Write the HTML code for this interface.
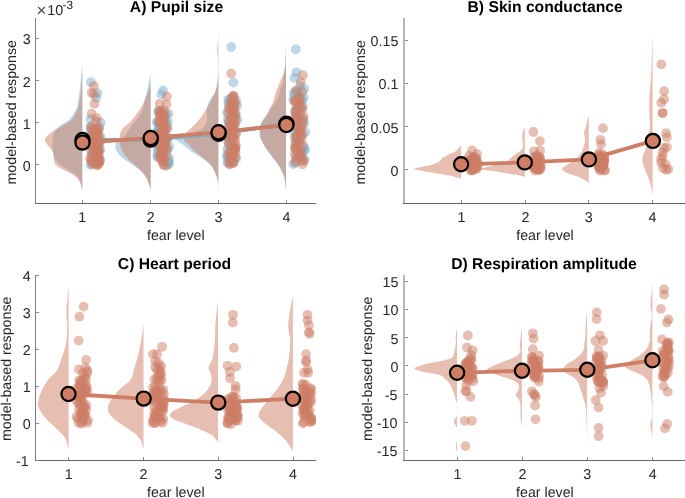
<!DOCTYPE html>
<html><head><meta charset="utf-8"><style>
html,body{margin:0;padding:0;background:#fff;width:685px;height:498px;overflow:hidden}
svg{display:block;will-change:transform}
text{font-family:"Liberation Sans",sans-serif;fill:#262626;text-rendering:geometricPrecision}
.t{font-size:14.3px}
.l{font-size:14.2px}
.ti{font-size:15.7px;font-weight:bold;fill:#000}
</style></head><body>
<svg width="685" height="498" viewBox="0 0 685 498">

<clipPath id="cA"><rect x="35.5" y="-2.0" width="280.5" height="205.5"/></clipPath>
<g clip-path="url(#cA)">
<path d="M82.3 64.5 L82.3 64.5 C82.1 66.3 81.6 70.8 81.2 75.1 C80.8 79.4 80.3 85.1 79.7 90.1 C79.1 95.1 78.3 101.4 77.4 105.2 C76.5 109.0 75.9 110.2 74.4 112.7 C72.9 115.2 70.6 118.2 68.4 120.2 C66.2 122.2 63.2 123.3 61.1 125.0 C59.0 126.7 56.9 128.2 55.5 130.6 C54.1 132.9 53.2 136.5 52.7 139.1 C52.2 141.7 52.4 143.8 52.4 146.1 C52.4 148.4 52.6 151.2 52.9 153.1 C53.2 155.0 53.2 155.7 54.1 157.3 C55.0 159.0 56.7 161.3 58.3 163.0 C59.9 164.7 61.8 165.8 63.9 167.2 C66.0 168.6 68.8 170.0 70.9 171.4 C73.0 172.8 75.2 174.2 76.6 175.6 C78.0 177.0 78.7 178.5 79.4 179.9 C80.1 181.3 80.3 182.2 80.8 184.1 C81.3 186.0 82.0 189.9 82.3 191.1 L82.3 191.1 Z" fill="rgb(123,176,201)" fill-opacity="0.5"/>
<path d="M150.7 72.8 L150.7 72.8 C150.6 73.5 150.5 74.7 150.0 77.0 C149.5 79.3 148.6 83.9 147.9 86.9 C147.2 90.0 146.4 93.0 145.8 95.3 C145.2 97.6 145.1 98.1 144.4 100.9 C143.7 103.7 143.8 108.0 141.6 112.2 C139.4 116.4 133.8 122.3 131.0 126.3 C128.2 130.3 126.9 133.8 124.7 136.1 C122.5 138.4 119.5 138.6 118.0 140.0 C116.5 141.4 115.8 143.0 115.5 144.7 C115.2 146.4 115.5 148.4 116.3 150.3 C117.1 152.2 118.6 154.0 120.5 155.9 C122.4 157.8 124.9 159.7 127.5 161.6 C130.1 163.5 133.3 165.3 135.9 167.2 C138.5 169.1 141.1 170.9 143.0 172.8 C144.9 174.7 146.0 176.1 147.2 178.4 C148.4 180.8 149.4 185.0 150.0 186.9 C150.6 188.8 150.6 189.5 150.7 190.0 L150.7 190.0 Z" fill="rgb(123,176,201)" fill-opacity="0.5"/>
<path d="M218.4 31.3 L218.4 31.3 C218.3 33.3 218.0 39.9 217.8 43.1 C217.6 46.3 216.9 47.3 217.0 50.3 C217.1 53.3 217.9 56.9 218.1 61.1 C218.3 65.3 218.2 71.1 218.0 75.6 C217.8 80.0 217.3 84.9 216.8 87.8 C216.3 90.7 215.7 91.6 214.8 93.1 C213.9 94.6 212.7 95.3 211.6 97.0 C210.5 98.7 209.1 101.3 208.3 103.5 C207.5 105.7 206.9 107.8 206.7 110.0 C206.5 112.2 207.1 114.4 207.0 116.6 C206.9 118.8 207.0 121.1 206.3 123.1 C205.7 125.0 204.6 127.0 203.1 128.3 C201.6 129.6 199.3 130.0 197.2 130.9 C195.1 131.8 193.1 132.7 190.7 133.5 C188.3 134.3 185.3 134.5 182.8 135.5 C180.3 136.5 175.8 137.8 175.8 139.3 C175.9 140.9 180.4 142.7 183.1 144.8 C185.8 146.9 189.1 149.9 192.1 152.0 C195.1 154.1 198.1 155.3 201.1 157.4 C204.1 159.5 207.8 161.9 210.2 164.6 C212.6 167.3 214.3 171.0 215.6 173.7 C216.9 176.4 217.3 178.2 217.8 180.9 C218.3 183.6 218.3 188.4 218.4 189.9 L218.4 189.9 Z" fill="rgb(123,176,201)" fill-opacity="0.5"/>
<path d="M286.0 28.6 L286.0 28.6 C286.0 31.0 286.0 37.2 285.9 43.1 C285.8 49.0 285.5 59.3 285.2 64.2 C284.9 69.1 284.1 69.9 283.8 72.7 C283.5 75.5 283.6 78.5 283.1 81.1 C282.6 83.7 281.8 85.5 281.0 88.1 C280.2 90.7 279.2 94.0 278.2 96.6 C277.1 99.2 275.8 102.0 274.7 103.6 C273.6 105.2 273.1 104.8 271.9 106.4 C270.7 108.0 269.2 111.1 267.7 113.4 C266.2 115.8 264.0 118.4 262.7 120.5 C261.4 122.6 260.4 124.4 259.9 126.1 C259.3 127.8 259.4 128.9 259.4 130.5 C259.4 132.1 259.3 133.6 259.8 135.7 C260.3 137.8 261.3 140.6 262.5 143.0 C263.7 145.4 265.3 147.8 267.0 150.2 C268.7 152.6 270.7 155.0 272.5 157.4 C274.3 159.8 276.4 162.2 278.0 164.6 C279.6 167.0 280.9 169.5 282.0 171.9 C283.1 174.3 283.8 176.1 284.5 179.1 C285.2 182.1 285.8 188.1 286.0 189.9 L286.0 189.9 Z" fill="rgb(123,176,201)" fill-opacity="0.5"/>
<path d="M82.3 70.0 L82.3 70.0 C82.1 73.3 81.6 84.1 81.0 90.0 C80.4 95.9 79.8 101.4 78.9 105.2 C78.1 109.0 77.2 110.2 75.9 112.7 C74.7 115.2 73.9 117.9 71.4 120.2 C68.9 122.5 64.0 124.7 61.1 126.4 C58.2 128.1 56.5 128.9 54.1 130.6 C51.8 132.2 48.5 134.9 47.0 136.3 C45.5 137.7 45.0 137.9 44.9 139.1 C44.8 140.3 45.4 141.8 46.3 143.3 C47.2 144.8 49.3 146.6 50.5 148.2 C51.7 149.8 52.8 151.1 53.4 153.1 C54.0 155.1 53.8 158.3 54.1 160.2 C54.5 162.1 54.3 163.0 55.5 164.4 C56.7 165.8 59.0 167.3 61.1 168.6 C63.2 169.9 65.8 170.8 68.1 172.1 C70.4 173.4 73.4 175.0 75.2 176.3 C77.0 177.6 77.8 178.6 78.7 179.9 C79.6 181.2 80.3 182.7 80.8 184.1 C81.3 185.5 81.7 187.3 81.9 188.3 C82.2 189.3 82.2 189.7 82.3 190.0 L82.3 190.0 Z" fill="rgb(206,126,101)" fill-opacity="0.5"/>
<path d="M150.7 84.0 L150.7 84.0 C150.1 85.9 148.2 92.5 147.2 95.3 C146.1 98.1 145.4 98.8 144.4 100.9 C143.4 103.0 142.3 105.7 140.9 108.0 C139.5 110.3 137.7 112.7 135.9 115.0 C134.1 117.3 132.4 119.9 130.3 122.0 C128.2 124.1 125.0 125.9 123.3 127.8 C121.6 129.7 120.8 131.8 120.2 133.4 C119.6 135.1 119.8 135.6 119.8 137.7 C119.8 139.8 119.9 143.5 120.5 146.1 C121.1 148.7 121.8 150.8 123.3 153.1 C124.8 155.4 127.3 157.8 129.6 160.2 C131.9 162.5 135.0 164.9 137.3 167.2 C139.7 169.5 142.0 172.1 143.7 174.2 C145.3 176.3 146.3 178.0 147.2 179.9 C148.1 181.8 148.7 183.9 149.3 185.5 C149.9 187.1 150.5 189.0 150.7 189.7 L150.7 189.7 Z" fill="rgb(206,126,101)" fill-opacity="0.5"/>
<path d="M218.4 57.5 L218.4 57.5 C218.3 60.5 218.3 70.8 218.0 75.6 C217.7 80.4 217.1 83.4 216.5 86.5 C215.9 89.6 215.2 91.8 214.2 94.4 C213.1 97.0 211.6 99.6 210.2 102.2 C208.8 104.8 207.3 107.4 205.7 110.0 C204.1 112.6 202.3 115.5 200.5 117.9 C198.7 120.3 196.4 122.5 194.6 124.4 C192.8 126.4 190.9 128.1 189.4 129.6 C187.9 131.1 186.4 132.3 185.4 133.5 C184.4 134.7 183.8 135.8 183.6 137.0 C183.4 138.2 183.7 139.7 184.5 141.0 C185.3 142.3 186.6 143.0 188.5 144.8 C190.4 146.6 193.0 149.6 195.7 152.0 C198.4 154.4 202.1 156.8 204.8 159.2 C207.5 161.6 210.2 164.0 212.0 166.4 C213.8 168.8 214.6 171.3 215.6 173.7 C216.6 176.1 217.3 178.2 217.8 180.9 C218.3 183.6 218.3 188.4 218.4 189.9 L218.4 189.9 Z" fill="rgb(206,126,101)" fill-opacity="0.5"/>
<path d="M286.0 52.1 L286.0 52.1 C285.8 55.1 285.6 65.4 284.7 70.2 C283.8 75.0 281.5 78.1 280.3 81.1 C279.1 84.1 278.4 85.5 277.5 88.1 C276.6 90.7 275.5 94.0 274.7 96.6 C273.9 99.2 273.3 101.7 272.6 103.6 C271.9 105.5 271.6 105.8 270.5 107.8 C269.4 109.8 267.5 113.5 266.2 115.8 C264.9 118.0 263.4 119.2 262.5 121.3 C261.6 123.4 260.9 126.1 260.5 128.5 C260.1 130.9 259.9 133.3 260.3 135.7 C260.7 138.1 261.8 140.6 263.0 143.0 C264.2 145.4 265.8 147.8 267.5 150.2 C269.2 152.6 271.2 155.0 273.0 157.4 C274.8 159.8 276.8 162.2 278.4 164.6 C280.0 167.0 281.3 169.5 282.4 171.9 C283.4 174.3 284.1 176.1 284.7 179.1 C285.3 182.1 285.8 188.1 286.0 189.9 L286.0 189.9 Z" fill="rgb(206,126,101)" fill-opacity="0.5"/>
<g fill="rgb(123,176,201)" fill-opacity="0.5">
<circle cx="90.9" cy="82.2" r="4.9"/>
<circle cx="97.3" cy="93.2" r="4.9"/>
<circle cx="96.2" cy="97.7" r="4.9"/>
<circle cx="100.6" cy="122.5" r="4.9"/>
<circle cx="90.6" cy="119.2" r="4.9"/>
<circle cx="99.0" cy="127.4" r="4.9"/>
<circle cx="90.7" cy="127.2" r="4.9"/>
<circle cx="97.0" cy="129.5" r="4.9"/>
<circle cx="90.7" cy="130.0" r="4.9"/>
<circle cx="97.8" cy="131.5" r="4.9"/>
<circle cx="97.6" cy="132.5" r="4.9"/>
<circle cx="91.0" cy="135.3" r="4.9"/>
<circle cx="94.4" cy="136.1" r="4.9"/>
<circle cx="100.5" cy="137.0" r="4.9"/>
<circle cx="89.7" cy="137.3" r="4.9"/>
<circle cx="93.9" cy="141.0" r="4.9"/>
<circle cx="93.1" cy="140.0" r="4.9"/>
<circle cx="100.0" cy="141.8" r="4.9"/>
<circle cx="91.9" cy="142.5" r="4.9"/>
<circle cx="95.5" cy="144.9" r="4.9"/>
<circle cx="98.7" cy="147.2" r="4.9"/>
<circle cx="91.7" cy="146.7" r="4.9"/>
<circle cx="100.4" cy="149.4" r="4.9"/>
<circle cx="97.6" cy="148.2" r="4.9"/>
<circle cx="96.7" cy="151.9" r="4.9"/>
<circle cx="98.3" cy="151.2" r="4.9"/>
<circle cx="91.6" cy="154.0" r="4.9"/>
<circle cx="91.9" cy="154.9" r="4.9"/>
<circle cx="93.2" cy="154.4" r="4.9"/>
<circle cx="93.9" cy="156.5" r="4.9"/>
<circle cx="98.7" cy="158.7" r="4.9"/>
<circle cx="100.2" cy="160.8" r="4.9"/>
<circle cx="98.2" cy="162.2" r="4.9"/>
<circle cx="91.4" cy="161.3" r="4.9"/>
<circle cx="95.5" cy="163.5" r="4.9"/>
<circle cx="90.5" cy="164.9" r="4.9"/>
<circle cx="163.0" cy="90.5" r="4.9"/>
<circle cx="161.4" cy="94.4" r="4.9"/>
<circle cx="158.1" cy="110.9" r="4.9"/>
<circle cx="157.5" cy="122.0" r="4.9"/>
<circle cx="168.6" cy="164.2" r="4.9"/>
<circle cx="159.7" cy="111.5" r="4.9"/>
<circle cx="168.3" cy="113.7" r="4.9"/>
<circle cx="166.0" cy="115.9" r="4.9"/>
<circle cx="163.4" cy="116.3" r="4.9"/>
<circle cx="163.5" cy="120.0" r="4.9"/>
<circle cx="168.0" cy="121.9" r="4.9"/>
<circle cx="157.0" cy="121.7" r="4.9"/>
<circle cx="158.6" cy="124.5" r="4.9"/>
<circle cx="166.1" cy="123.8" r="4.9"/>
<circle cx="167.5" cy="127.8" r="4.9"/>
<circle cx="159.5" cy="129.7" r="4.9"/>
<circle cx="158.5" cy="128.7" r="4.9"/>
<circle cx="158.4" cy="132.9" r="4.9"/>
<circle cx="157.3" cy="132.0" r="4.9"/>
<circle cx="157.5" cy="133.3" r="4.9"/>
<circle cx="159.0" cy="135.7" r="4.9"/>
<circle cx="168.6" cy="137.1" r="4.9"/>
<circle cx="167.2" cy="138.3" r="4.9"/>
<circle cx="164.1" cy="141.6" r="4.9"/>
<circle cx="166.6" cy="142.6" r="4.9"/>
<circle cx="159.9" cy="144.2" r="4.9"/>
<circle cx="160.1" cy="145.0" r="4.9"/>
<circle cx="169.3" cy="146.8" r="4.9"/>
<circle cx="157.9" cy="148.4" r="4.9"/>
<circle cx="167.2" cy="150.1" r="4.9"/>
<circle cx="165.8" cy="151.6" r="4.9"/>
<circle cx="157.8" cy="152.1" r="4.9"/>
<circle cx="157.6" cy="155.4" r="4.9"/>
<circle cx="161.8" cy="155.8" r="4.9"/>
<circle cx="157.5" cy="157.1" r="4.9"/>
<circle cx="168.9" cy="158.1" r="4.9"/>
<circle cx="168.9" cy="161.7" r="4.9"/>
<circle cx="168.9" cy="162.6" r="4.9"/>
<circle cx="164.7" cy="165.3" r="4.9"/>
<circle cx="231.3" cy="47.0" r="4.9"/>
<circle cx="233.4" cy="82.6" r="4.9"/>
<circle cx="228.4" cy="100.0" r="4.9"/>
<circle cx="233.5" cy="97.1" r="4.9"/>
<circle cx="229.6" cy="99.5" r="4.9"/>
<circle cx="236.3" cy="100.8" r="4.9"/>
<circle cx="228.6" cy="103.3" r="4.9"/>
<circle cx="233.3" cy="104.2" r="4.9"/>
<circle cx="237.1" cy="105.5" r="4.9"/>
<circle cx="231.4" cy="107.3" r="4.9"/>
<circle cx="233.5" cy="110.3" r="4.9"/>
<circle cx="229.9" cy="110.1" r="4.9"/>
<circle cx="227.1" cy="112.4" r="4.9"/>
<circle cx="234.6" cy="114.4" r="4.9"/>
<circle cx="235.8" cy="115.6" r="4.9"/>
<circle cx="232.6" cy="118.8" r="4.9"/>
<circle cx="227.8" cy="119.8" r="4.9"/>
<circle cx="237.3" cy="119.7" r="4.9"/>
<circle cx="228.8" cy="122.1" r="4.9"/>
<circle cx="234.7" cy="125.7" r="4.9"/>
<circle cx="230.0" cy="125.1" r="4.9"/>
<circle cx="229.5" cy="127.1" r="4.9"/>
<circle cx="232.3" cy="128.2" r="4.9"/>
<circle cx="230.8" cy="130.8" r="4.9"/>
<circle cx="227.7" cy="132.1" r="4.9"/>
<circle cx="236.1" cy="133.4" r="4.9"/>
<circle cx="232.7" cy="137.3" r="4.9"/>
<circle cx="228.1" cy="137.1" r="4.9"/>
<circle cx="230.0" cy="138.8" r="4.9"/>
<circle cx="229.5" cy="140.4" r="4.9"/>
<circle cx="228.6" cy="142.5" r="4.9"/>
<circle cx="231.5" cy="145.6" r="4.9"/>
<circle cx="230.4" cy="146.8" r="4.9"/>
<circle cx="235.1" cy="148.7" r="4.9"/>
<circle cx="227.3" cy="149.8" r="4.9"/>
<circle cx="230.7" cy="152.0" r="4.9"/>
<circle cx="227.7" cy="154.6" r="4.9"/>
<circle cx="226.7" cy="156.6" r="4.9"/>
<circle cx="231.4" cy="157.4" r="4.9"/>
<circle cx="236.3" cy="158.4" r="4.9"/>
<circle cx="228.3" cy="161.3" r="4.9"/>
<circle cx="233.2" cy="162.4" r="4.9"/>
<circle cx="227.5" cy="162.7" r="4.9"/>
<circle cx="295.8" cy="49.3" r="4.9"/>
<circle cx="296.5" cy="72.3" r="4.9"/>
<circle cx="294.4" cy="77.9" r="4.9"/>
<circle cx="303.6" cy="97.6" r="4.9"/>
<circle cx="300.1" cy="86.0" r="4.9"/>
<circle cx="304.2" cy="88.9" r="4.9"/>
<circle cx="297.2" cy="90.9" r="4.9"/>
<circle cx="298.0" cy="93.0" r="4.9"/>
<circle cx="293.7" cy="93.0" r="4.9"/>
<circle cx="294.5" cy="95.5" r="4.9"/>
<circle cx="300.4" cy="96.7" r="4.9"/>
<circle cx="302.3" cy="100.1" r="4.9"/>
<circle cx="293.3" cy="99.9" r="4.9"/>
<circle cx="299.7" cy="102.4" r="4.9"/>
<circle cx="302.9" cy="106.0" r="4.9"/>
<circle cx="300.2" cy="108.2" r="4.9"/>
<circle cx="296.3" cy="109.2" r="4.9"/>
<circle cx="295.2" cy="110.2" r="4.9"/>
<circle cx="300.4" cy="112.7" r="4.9"/>
<circle cx="297.6" cy="114.7" r="4.9"/>
<circle cx="295.7" cy="116.2" r="4.9"/>
<circle cx="300.1" cy="119.3" r="4.9"/>
<circle cx="303.1" cy="121.0" r="4.9"/>
<circle cx="294.0" cy="121.5" r="4.9"/>
<circle cx="304.3" cy="123.4" r="4.9"/>
<circle cx="297.8" cy="126.8" r="4.9"/>
<circle cx="296.9" cy="128.7" r="4.9"/>
<circle cx="293.7" cy="130.9" r="4.9"/>
<circle cx="305.2" cy="132.4" r="4.9"/>
<circle cx="298.5" cy="133.3" r="4.9"/>
<circle cx="296.1" cy="134.4" r="4.9"/>
<circle cx="296.4" cy="136.6" r="4.9"/>
<circle cx="296.4" cy="138.0" r="4.9"/>
<circle cx="299.3" cy="140.0" r="4.9"/>
<circle cx="295.5" cy="142.8" r="4.9"/>
<circle cx="296.5" cy="146.3" r="4.9"/>
<circle cx="304.1" cy="147.0" r="4.9"/>
<circle cx="305.1" cy="149.6" r="4.9"/>
<circle cx="303.8" cy="151.0" r="4.9"/>
<circle cx="302.0" cy="151.3" r="4.9"/>
<circle cx="296.7" cy="154.0" r="4.9"/>
<circle cx="302.1" cy="157.2" r="4.9"/>
<circle cx="297.2" cy="157.9" r="4.9"/>
<circle cx="304.6" cy="159.6" r="4.9"/>
<circle cx="295.9" cy="162.5" r="4.9"/>
<circle cx="293.3" cy="164.1" r="4.9"/>
</g>
<polyline points="82.5,140.0 150.7,139.6 218.6,133.8 286.4,123.8" fill="none" stroke="rgb(123,176,201)" stroke-width="3.8" stroke-linejoin="round"/>
<g fill="rgb(206,126,101)" fill-opacity="0.5">
<circle cx="93.9" cy="86.0" r="4.9"/>
<circle cx="91.7" cy="92.7" r="4.9"/>
<circle cx="93.9" cy="94.3" r="4.9"/>
<circle cx="94.5" cy="103.7" r="4.9"/>
<circle cx="91.7" cy="113.7" r="4.9"/>
<circle cx="96.7" cy="118.1" r="4.9"/>
<circle cx="96.2" cy="121.4" r="4.9"/>
<circle cx="90.6" cy="126.9" r="4.9"/>
<circle cx="96.2" cy="128.0" r="4.9"/>
<circle cx="92.7" cy="128.0" r="4.9"/>
<circle cx="99.2" cy="128.2" r="4.9"/>
<circle cx="97.1" cy="130.2" r="4.9"/>
<circle cx="94.1" cy="131.0" r="4.9"/>
<circle cx="96.0" cy="132.3" r="4.9"/>
<circle cx="96.8" cy="133.3" r="4.9"/>
<circle cx="94.7" cy="134.2" r="4.9"/>
<circle cx="91.9" cy="133.0" r="4.9"/>
<circle cx="92.1" cy="135.5" r="4.9"/>
<circle cx="96.4" cy="136.1" r="4.9"/>
<circle cx="98.0" cy="135.1" r="4.9"/>
<circle cx="98.7" cy="135.8" r="4.9"/>
<circle cx="92.6" cy="139.1" r="4.9"/>
<circle cx="97.5" cy="139.5" r="4.9"/>
<circle cx="96.9" cy="138.5" r="4.9"/>
<circle cx="99.2" cy="139.3" r="4.9"/>
<circle cx="99.8" cy="141.8" r="4.9"/>
<circle cx="93.5" cy="140.7" r="4.9"/>
<circle cx="96.3" cy="143.2" r="4.9"/>
<circle cx="98.9" cy="142.7" r="4.9"/>
<circle cx="93.4" cy="145.5" r="4.9"/>
<circle cx="96.8" cy="144.2" r="4.9"/>
<circle cx="96.8" cy="145.8" r="4.9"/>
<circle cx="94.3" cy="146.9" r="4.9"/>
<circle cx="91.8" cy="146.3" r="4.9"/>
<circle cx="97.4" cy="148.4" r="4.9"/>
<circle cx="97.6" cy="149.1" r="4.9"/>
<circle cx="98.9" cy="150.2" r="4.9"/>
<circle cx="93.6" cy="151.4" r="4.9"/>
<circle cx="91.1" cy="150.6" r="4.9"/>
<circle cx="98.7" cy="151.2" r="4.9"/>
<circle cx="97.6" cy="154.5" r="4.9"/>
<circle cx="96.8" cy="153.0" r="4.9"/>
<circle cx="98.9" cy="153.8" r="4.9"/>
<circle cx="97.6" cy="156.2" r="4.9"/>
<circle cx="94.5" cy="156.9" r="4.9"/>
<circle cx="99.6" cy="158.4" r="4.9"/>
<circle cx="94.7" cy="157.4" r="4.9"/>
<circle cx="97.0" cy="159.7" r="4.9"/>
<circle cx="94.8" cy="159.5" r="4.9"/>
<circle cx="93.1" cy="162.0" r="4.9"/>
<circle cx="97.0" cy="160.5" r="4.9"/>
<circle cx="99.0" cy="161.5" r="4.9"/>
<circle cx="99.3" cy="162.5" r="4.9"/>
<circle cx="98.9" cy="163.4" r="4.9"/>
<circle cx="97.5" cy="165.4" r="4.9"/>
<circle cx="94.9" cy="157.7" r="4.9"/>
<circle cx="93.4" cy="157.8" r="4.9"/>
<circle cx="90.1" cy="158.5" r="4.9"/>
<circle cx="91.2" cy="159.8" r="4.9"/>
<circle cx="97.4" cy="160.6" r="4.9"/>
<circle cx="96.2" cy="160.5" r="4.9"/>
<circle cx="98.0" cy="161.5" r="4.9"/>
<circle cx="92.1" cy="164.0" r="4.9"/>
<circle cx="97.2" cy="165.0" r="4.9"/>
<circle cx="94.1" cy="163.4" r="4.9"/>
<circle cx="166.9" cy="96.6" r="4.9"/>
<circle cx="159.7" cy="103.8" r="4.9"/>
<circle cx="166.4" cy="104.3" r="4.9"/>
<circle cx="164.2" cy="110.9" r="4.9"/>
<circle cx="159.2" cy="111.0" r="4.9"/>
<circle cx="160.9" cy="111.0" r="4.9"/>
<circle cx="164.8" cy="113.5" r="4.9"/>
<circle cx="159.7" cy="115.0" r="4.9"/>
<circle cx="159.3" cy="114.7" r="4.9"/>
<circle cx="163.3" cy="115.2" r="4.9"/>
<circle cx="160.7" cy="115.7" r="4.9"/>
<circle cx="163.6" cy="118.7" r="4.9"/>
<circle cx="164.0" cy="118.5" r="4.9"/>
<circle cx="159.1" cy="121.4" r="4.9"/>
<circle cx="164.9" cy="122.5" r="4.9"/>
<circle cx="160.3" cy="122.2" r="4.9"/>
<circle cx="161.9" cy="125.1" r="4.9"/>
<circle cx="159.8" cy="123.6" r="4.9"/>
<circle cx="164.1" cy="127.0" r="4.9"/>
<circle cx="165.2" cy="128.0" r="4.9"/>
<circle cx="167.3" cy="128.3" r="4.9"/>
<circle cx="163.7" cy="128.9" r="4.9"/>
<circle cx="164.3" cy="131.3" r="4.9"/>
<circle cx="163.9" cy="132.5" r="4.9"/>
<circle cx="159.4" cy="133.2" r="4.9"/>
<circle cx="161.5" cy="132.8" r="4.9"/>
<circle cx="161.0" cy="133.5" r="4.9"/>
<circle cx="161.4" cy="134.7" r="4.9"/>
<circle cx="162.1" cy="137.4" r="4.9"/>
<circle cx="160.8" cy="137.7" r="4.9"/>
<circle cx="167.0" cy="138.5" r="4.9"/>
<circle cx="164.2" cy="140.7" r="4.9"/>
<circle cx="165.2" cy="140.4" r="4.9"/>
<circle cx="162.2" cy="141.4" r="4.9"/>
<circle cx="164.4" cy="145.0" r="4.9"/>
<circle cx="164.8" cy="144.8" r="4.9"/>
<circle cx="165.6" cy="146.8" r="4.9"/>
<circle cx="159.3" cy="146.0" r="4.9"/>
<circle cx="161.3" cy="147.4" r="4.9"/>
<circle cx="167.0" cy="148.2" r="4.9"/>
<circle cx="161.7" cy="151.3" r="4.9"/>
<circle cx="162.4" cy="151.7" r="4.9"/>
<circle cx="162.9" cy="153.6" r="4.9"/>
<circle cx="161.1" cy="152.7" r="4.9"/>
<circle cx="161.2" cy="154.7" r="4.9"/>
<circle cx="166.6" cy="155.9" r="4.9"/>
<circle cx="160.9" cy="156.4" r="4.9"/>
<circle cx="163.3" cy="159.3" r="4.9"/>
<circle cx="159.4" cy="157.7" r="4.9"/>
<circle cx="164.3" cy="158.9" r="4.9"/>
<circle cx="162.6" cy="162.0" r="4.9"/>
<circle cx="162.2" cy="160.9" r="4.9"/>
<circle cx="163.5" cy="164.8" r="4.9"/>
<circle cx="166.3" cy="165.9" r="4.9"/>
<circle cx="231.1" cy="73.5" r="4.9"/>
<circle cx="233.4" cy="95.7" r="4.9"/>
<circle cx="233.6" cy="96.2" r="4.9"/>
<circle cx="231.7" cy="97.8" r="4.9"/>
<circle cx="234.3" cy="100.6" r="4.9"/>
<circle cx="232.0" cy="101.1" r="4.9"/>
<circle cx="231.5" cy="101.0" r="4.9"/>
<circle cx="234.8" cy="103.3" r="4.9"/>
<circle cx="234.0" cy="105.0" r="4.9"/>
<circle cx="229.4" cy="105.9" r="4.9"/>
<circle cx="234.6" cy="108.4" r="4.9"/>
<circle cx="228.8" cy="108.2" r="4.9"/>
<circle cx="232.0" cy="109.8" r="4.9"/>
<circle cx="232.8" cy="111.8" r="4.9"/>
<circle cx="232.6" cy="112.2" r="4.9"/>
<circle cx="228.4" cy="113.0" r="4.9"/>
<circle cx="235.5" cy="113.3" r="4.9"/>
<circle cx="230.4" cy="116.8" r="4.9"/>
<circle cx="232.2" cy="118.2" r="4.9"/>
<circle cx="234.8" cy="117.1" r="4.9"/>
<circle cx="235.5" cy="119.7" r="4.9"/>
<circle cx="228.8" cy="121.2" r="4.9"/>
<circle cx="234.3" cy="122.3" r="4.9"/>
<circle cx="230.7" cy="124.3" r="4.9"/>
<circle cx="233.6" cy="124.4" r="4.9"/>
<circle cx="234.8" cy="124.5" r="4.9"/>
<circle cx="228.4" cy="127.6" r="4.9"/>
<circle cx="230.9" cy="128.2" r="4.9"/>
<circle cx="232.8" cy="128.2" r="4.9"/>
<circle cx="232.4" cy="131.8" r="4.9"/>
<circle cx="232.0" cy="130.4" r="4.9"/>
<circle cx="235.6" cy="133.7" r="4.9"/>
<circle cx="228.3" cy="134.7" r="4.9"/>
<circle cx="232.8" cy="136.6" r="4.9"/>
<circle cx="229.0" cy="135.2" r="4.9"/>
<circle cx="233.3" cy="136.4" r="4.9"/>
<circle cx="234.5" cy="137.9" r="4.9"/>
<circle cx="232.3" cy="138.9" r="4.9"/>
<circle cx="228.3" cy="141.2" r="4.9"/>
<circle cx="235.2" cy="141.0" r="4.9"/>
<circle cx="229.0" cy="145.2" r="4.9"/>
<circle cx="235.9" cy="145.7" r="4.9"/>
<circle cx="235.1" cy="147.4" r="4.9"/>
<circle cx="233.7" cy="146.9" r="4.9"/>
<circle cx="235.5" cy="148.6" r="4.9"/>
<circle cx="234.7" cy="150.4" r="4.9"/>
<circle cx="231.1" cy="152.1" r="4.9"/>
<circle cx="228.7" cy="152.9" r="4.9"/>
<circle cx="235.5" cy="152.6" r="4.9"/>
<circle cx="233.5" cy="154.4" r="4.9"/>
<circle cx="230.1" cy="156.1" r="4.9"/>
<circle cx="235.3" cy="157.4" r="4.9"/>
<circle cx="230.8" cy="157.8" r="4.9"/>
<circle cx="229.4" cy="158.6" r="4.9"/>
<circle cx="233.6" cy="161.7" r="4.9"/>
<circle cx="233.4" cy="163.4" r="4.9"/>
<circle cx="229.8" cy="164.6" r="4.9"/>
<circle cx="229.7" cy="163.5" r="4.9"/>
<circle cx="302.9" cy="75.1" r="4.9"/>
<circle cx="300.8" cy="82.1" r="4.9"/>
<circle cx="295.8" cy="90.6" r="4.9"/>
<circle cx="302.2" cy="92.0" r="4.9"/>
<circle cx="298.0" cy="97.6" r="4.9"/>
<circle cx="300.1" cy="102.5" r="4.9"/>
<circle cx="299.6" cy="98.5" r="4.9"/>
<circle cx="296.2" cy="101.3" r="4.9"/>
<circle cx="294.8" cy="100.8" r="4.9"/>
<circle cx="294.6" cy="101.9" r="4.9"/>
<circle cx="299.4" cy="103.5" r="4.9"/>
<circle cx="301.1" cy="107.5" r="4.9"/>
<circle cx="298.3" cy="107.1" r="4.9"/>
<circle cx="297.6" cy="109.5" r="4.9"/>
<circle cx="302.5" cy="109.1" r="4.9"/>
<circle cx="295.6" cy="112.2" r="4.9"/>
<circle cx="295.4" cy="112.0" r="4.9"/>
<circle cx="295.5" cy="116.1" r="4.9"/>
<circle cx="303.7" cy="116.6" r="4.9"/>
<circle cx="298.2" cy="116.3" r="4.9"/>
<circle cx="303.2" cy="119.1" r="4.9"/>
<circle cx="297.0" cy="119.6" r="4.9"/>
<circle cx="295.0" cy="121.3" r="4.9"/>
<circle cx="302.3" cy="124.0" r="4.9"/>
<circle cx="294.9" cy="124.8" r="4.9"/>
<circle cx="301.5" cy="127.0" r="4.9"/>
<circle cx="297.6" cy="128.3" r="4.9"/>
<circle cx="300.5" cy="130.3" r="4.9"/>
<circle cx="299.6" cy="131.0" r="4.9"/>
<circle cx="298.8" cy="131.4" r="4.9"/>
<circle cx="301.0" cy="134.6" r="4.9"/>
<circle cx="302.3" cy="134.7" r="4.9"/>
<circle cx="294.9" cy="137.6" r="4.9"/>
<circle cx="296.6" cy="137.0" r="4.9"/>
<circle cx="301.7" cy="138.1" r="4.9"/>
<circle cx="299.7" cy="141.4" r="4.9"/>
<circle cx="297.9" cy="143.9" r="4.9"/>
<circle cx="295.6" cy="143.0" r="4.9"/>
<circle cx="302.5" cy="144.9" r="4.9"/>
<circle cx="295.1" cy="147.1" r="4.9"/>
<circle cx="295.0" cy="148.0" r="4.9"/>
<circle cx="295.7" cy="150.1" r="4.9"/>
<circle cx="300.6" cy="150.2" r="4.9"/>
<circle cx="300.4" cy="153.6" r="4.9"/>
<circle cx="300.6" cy="153.5" r="4.9"/>
<circle cx="294.6" cy="154.8" r="4.9"/>
<circle cx="301.0" cy="156.3" r="4.9"/>
<circle cx="296.3" cy="158.8" r="4.9"/>
<circle cx="302.4" cy="160.9" r="4.9"/>
<circle cx="303.6" cy="160.7" r="4.9"/>
<circle cx="295.1" cy="162.1" r="4.9"/>
<circle cx="302.7" cy="164.3" r="4.9"/>
</g>
<polyline points="82.5,142.6 150.7,138.0 218.6,132.3 286.4,125.0" fill="none" stroke="rgb(206,126,101)" stroke-width="3.8" stroke-linejoin="round"/>
<circle cx="82.5" cy="140.0" r="7.1" fill="rgb(123,176,201)" stroke="#000" stroke-width="2.2"/>
<circle cx="150.7" cy="139.6" r="7.1" fill="rgb(123,176,201)" stroke="#000" stroke-width="2.2"/>
<circle cx="218.6" cy="133.8" r="7.1" fill="rgb(123,176,201)" stroke="#000" stroke-width="2.2"/>
<circle cx="286.4" cy="123.8" r="7.1" fill="rgb(123,176,201)" stroke="#000" stroke-width="2.2"/>
<circle cx="82.5" cy="142.6" r="7.1" fill="rgb(206,126,101)" stroke="#000" stroke-width="2.2"/>
<circle cx="150.7" cy="138.0" r="7.1" fill="rgb(206,126,101)" stroke="#000" stroke-width="2.2"/>
<circle cx="218.6" cy="132.3" r="7.1" fill="rgb(206,126,101)" stroke="#000" stroke-width="2.2"/>
<circle cx="286.4" cy="125.0" r="7.1" fill="rgb(206,126,101)" stroke="#000" stroke-width="2.2"/>
</g>
<g shape-rendering="crispEdges">
<rect x="35" y="18" width="1" height="185" fill="rgb(130,130,130)"/>
<rect x="35" y="203" width="281" height="1" fill="rgb(100,100,100)"/>
<rect x="82" y="200" width="1" height="3" fill="rgb(140,140,140)"/>
<rect x="150" y="200" width="1" height="3" fill="rgb(140,140,140)"/>
<rect x="218" y="200" width="1" height="3" fill="rgb(140,140,140)"/>
<rect x="286" y="200" width="1" height="3" fill="rgb(140,140,140)"/>
<rect x="36" y="164" width="3" height="1" fill="rgb(140,140,140)"/>
<rect x="36" y="122" width="3" height="1" fill="rgb(140,140,140)"/>
<rect x="36" y="80" width="3" height="1" fill="rgb(140,140,140)"/>
<rect x="36" y="38" width="3" height="1" fill="rgb(140,140,140)"/>
</g>
<text class="t" x="82.3" y="222.3" text-anchor="middle">1</text>
<text class="t" x="150.7" y="222.3" text-anchor="middle">2</text>
<text class="t" x="218.4" y="222.3" text-anchor="middle">3</text>
<text class="t" x="286.4" y="222.3" text-anchor="middle">4</text>
<text class="t" x="30.7" y="170.6" text-anchor="end">0</text>
<text class="t" x="30.7" y="128.5" text-anchor="end">1</text>
<text class="t" x="30.7" y="86.5" text-anchor="end">2</text>
<text class="t" x="30.7" y="44.4" text-anchor="end">3</text>
<text class="t l" x="175.8" y="240.1" text-anchor="middle">fear level</text>
<text class="t l" transform="translate(15.7 112.3) rotate(-90)" text-anchor="middle">model-based response</text>
<text class="ti" x="176.5" y="11.8" text-anchor="middle">A) Pupil size</text>
<clipPath id="cB"><rect x="404.5" y="-2.0" width="285.5" height="205.4"/></clipPath>
<g clip-path="url(#cB)">
<path d="M461.0 145.5 L461.0 145.5 C460.0 146.5 457.4 150.0 455.2 151.6 C453.0 153.2 450.2 153.8 447.9 154.9 C445.6 156.1 443.0 157.4 441.6 158.5 C440.2 159.6 441.3 160.2 439.8 161.2 C438.3 162.2 435.3 163.5 432.6 164.4 C429.9 165.3 426.6 165.8 423.5 166.6 C420.4 167.4 414.1 168.3 414.1 169.1 C414.1 169.9 419.7 170.5 423.5 171.2 C427.3 171.9 432.6 172.7 437.1 173.4 C441.6 174.2 447.0 174.9 450.6 175.7 C454.2 176.4 457.1 177.4 458.8 177.9 C460.5 178.4 460.6 178.5 461.0 178.6 L461.0 178.6 Z" fill="rgb(206,126,101)" fill-opacity="0.5"/>
<path d="M524.8 127.2 L524.8 127.2 C524.5 128.0 523.2 130.2 522.8 132.0 C522.4 133.8 522.2 136.1 522.2 138.1 C522.2 140.1 522.8 142.3 522.8 144.1 C522.8 145.9 523.3 147.3 522.2 148.9 C521.1 150.5 518.1 152.1 516.1 153.7 C514.1 155.3 511.5 157.4 510.1 158.6 C508.7 159.8 509.7 160.1 507.7 161.0 C505.7 161.9 501.3 163.0 498.0 164.0 C494.7 165.0 491.2 166.2 488.0 167.0 C484.8 167.8 479.0 168.4 479.0 169.0 C479.0 169.6 484.8 170.0 488.0 170.5 C491.2 171.0 493.3 171.1 498.0 171.8 C502.7 172.5 511.6 174.0 516.1 174.8 C520.6 175.6 523.3 176.5 524.8 176.8 L524.8 176.8 Z" fill="rgb(206,126,101)" fill-opacity="0.5"/>
<path d="M588.8 115.6 L588.8 115.6 C588.5 116.5 587.7 119.2 587.2 121.2 C586.7 123.2 586.1 125.8 585.6 127.7 C585.1 129.6 584.1 130.6 584.0 132.5 C583.9 134.4 585.1 136.8 585.1 138.9 C585.1 141.0 584.6 143.2 584.0 145.3 C583.4 147.5 582.5 149.9 581.6 151.8 C580.7 153.7 580.0 155.0 578.4 156.6 C576.8 158.2 574.4 159.7 572.0 161.4 C569.6 163.1 565.5 165.5 563.9 167.0 C562.3 168.5 561.5 169.1 562.3 170.2 C563.1 171.3 565.8 172.3 568.7 173.5 C571.7 174.7 576.8 176.0 580.0 177.5 C583.2 179.0 586.5 181.2 588.0 182.3 C589.5 183.4 588.7 183.6 588.8 183.9 L588.8 183.9 Z" fill="rgb(206,126,101)" fill-opacity="0.5"/>
<path d="M652.6 36.7 L652.6 36.7 C652.5 39.3 652.1 46.5 651.9 52.1 C651.7 57.7 651.7 64.2 651.4 70.2 C651.1 76.2 650.5 83.2 650.1 88.3 C649.7 93.4 649.3 96.5 649.2 100.9 C649.1 105.4 649.3 111.1 649.4 115.0 C649.5 118.9 650.2 120.0 650.0 124.1 C649.8 128.2 649.1 135.3 648.4 139.4 C647.7 143.5 646.5 146.1 645.6 148.9 C644.7 151.8 643.2 154.3 642.7 156.5 C642.2 158.7 642.3 160.1 642.7 162.3 C643.1 164.5 644.0 167.4 645.0 169.9 C646.0 172.4 647.4 174.9 648.4 177.5 C649.4 180.1 650.0 182.3 650.7 185.2 C651.4 188.1 652.3 193.1 652.6 194.7 L652.6 194.7 Z" fill="rgb(206,126,101)" fill-opacity="0.5"/>
<g fill="rgb(206,126,101)" fill-opacity="0.5">
<circle cx="472.0" cy="150.4" r="4.9"/>
<circle cx="477.0" cy="154.1" r="4.9"/>
<circle cx="469.0" cy="156.0" r="4.9"/>
<circle cx="474.0" cy="158.0" r="4.9"/>
<circle cx="474.0" cy="157.1" r="4.9"/>
<circle cx="473.2" cy="158.9" r="4.9"/>
<circle cx="474.3" cy="158.1" r="4.9"/>
<circle cx="473.6" cy="157.6" r="4.9"/>
<circle cx="476.1" cy="159.3" r="4.9"/>
<circle cx="471.7" cy="158.2" r="4.9"/>
<circle cx="476.3" cy="158.6" r="4.9"/>
<circle cx="469.4" cy="160.8" r="4.9"/>
<circle cx="477.7" cy="162.1" r="4.9"/>
<circle cx="474.5" cy="161.6" r="4.9"/>
<circle cx="469.1" cy="160.5" r="4.9"/>
<circle cx="469.5" cy="162.1" r="4.9"/>
<circle cx="471.2" cy="161.5" r="4.9"/>
<circle cx="473.2" cy="161.4" r="4.9"/>
<circle cx="476.6" cy="163.1" r="4.9"/>
<circle cx="474.8" cy="163.8" r="4.9"/>
<circle cx="475.0" cy="164.1" r="4.9"/>
<circle cx="471.5" cy="164.5" r="4.9"/>
<circle cx="478.0" cy="166.5" r="4.9"/>
<circle cx="475.4" cy="166.5" r="4.9"/>
<circle cx="471.1" cy="165.3" r="4.9"/>
<circle cx="469.6" cy="165.7" r="4.9"/>
<circle cx="472.6" cy="167.5" r="4.9"/>
<circle cx="472.5" cy="168.2" r="4.9"/>
<circle cx="476.6" cy="169.0" r="4.9"/>
<circle cx="470.9" cy="166.6" r="4.9"/>
<circle cx="473.2" cy="169.7" r="4.9"/>
<circle cx="472.6" cy="170.4" r="4.9"/>
<circle cx="474.7" cy="168.1" r="4.9"/>
<circle cx="471.4" cy="170.6" r="4.9"/>
<circle cx="475.1" cy="162.2" r="4.9"/>
<circle cx="477.0" cy="164.5" r="4.9"/>
<circle cx="471.5" cy="164.1" r="4.9"/>
<circle cx="474.8" cy="166.2" r="4.9"/>
<circle cx="475.0" cy="165.6" r="4.9"/>
<circle cx="475.7" cy="166.5" r="4.9"/>
<circle cx="471.3" cy="166.4" r="4.9"/>
<circle cx="472.4" cy="169.5" r="4.9"/>
<circle cx="475.9" cy="168.2" r="4.9"/>
<circle cx="470.7" cy="170.0" r="4.9"/>
<circle cx="533.4" cy="132.0" r="4.9"/>
<circle cx="539.8" cy="141.1" r="4.9"/>
<circle cx="534.0" cy="151.3" r="4.9"/>
<circle cx="540.1" cy="150.7" r="4.9"/>
<circle cx="538.3" cy="156.2" r="4.9"/>
<circle cx="534.1" cy="157.2" r="4.9"/>
<circle cx="536.0" cy="155.8" r="4.9"/>
<circle cx="539.5" cy="157.1" r="4.9"/>
<circle cx="537.8" cy="158.8" r="4.9"/>
<circle cx="538.3" cy="158.9" r="4.9"/>
<circle cx="536.5" cy="158.2" r="4.9"/>
<circle cx="540.2" cy="158.7" r="4.9"/>
<circle cx="539.6" cy="158.9" r="4.9"/>
<circle cx="538.5" cy="159.5" r="4.9"/>
<circle cx="536.2" cy="160.8" r="4.9"/>
<circle cx="533.1" cy="162.8" r="4.9"/>
<circle cx="540.3" cy="160.9" r="4.9"/>
<circle cx="533.7" cy="162.8" r="4.9"/>
<circle cx="540.6" cy="164.7" r="4.9"/>
<circle cx="536.4" cy="162.6" r="4.9"/>
<circle cx="535.5" cy="163.2" r="4.9"/>
<circle cx="534.3" cy="165.1" r="4.9"/>
<circle cx="533.4" cy="165.8" r="4.9"/>
<circle cx="539.5" cy="164.8" r="4.9"/>
<circle cx="536.4" cy="166.0" r="4.9"/>
<circle cx="536.8" cy="167.0" r="4.9"/>
<circle cx="533.2" cy="166.9" r="4.9"/>
<circle cx="540.7" cy="168.4" r="4.9"/>
<circle cx="538.3" cy="169.7" r="4.9"/>
<circle cx="535.9" cy="168.3" r="4.9"/>
<circle cx="538.4" cy="169.8" r="4.9"/>
<circle cx="534.9" cy="168.6" r="4.9"/>
<circle cx="533.6" cy="164.7" r="4.9"/>
<circle cx="534.6" cy="164.8" r="4.9"/>
<circle cx="533.6" cy="166.2" r="4.9"/>
<circle cx="538.3" cy="166.6" r="4.9"/>
<circle cx="540.5" cy="167.2" r="4.9"/>
<circle cx="535.9" cy="166.1" r="4.9"/>
<circle cx="535.5" cy="168.2" r="4.9"/>
<circle cx="535.1" cy="167.5" r="4.9"/>
<circle cx="539.6" cy="170.0" r="4.9"/>
<circle cx="535.1" cy="170.5" r="4.9"/>
<circle cx="603.0" cy="128.1" r="4.9"/>
<circle cx="600.4" cy="139.8" r="4.9"/>
<circle cx="601.0" cy="144.4" r="4.9"/>
<circle cx="599.0" cy="152.9" r="4.9"/>
<circle cx="602.8" cy="154.5" r="4.9"/>
<circle cx="604.2" cy="156.3" r="4.9"/>
<circle cx="599.0" cy="155.2" r="4.9"/>
<circle cx="598.9" cy="155.6" r="4.9"/>
<circle cx="598.1" cy="157.8" r="4.9"/>
<circle cx="598.8" cy="157.7" r="4.9"/>
<circle cx="600.7" cy="157.4" r="4.9"/>
<circle cx="602.2" cy="159.5" r="4.9"/>
<circle cx="599.3" cy="157.5" r="4.9"/>
<circle cx="604.4" cy="158.4" r="4.9"/>
<circle cx="603.9" cy="160.9" r="4.9"/>
<circle cx="603.3" cy="161.4" r="4.9"/>
<circle cx="603.7" cy="162.2" r="4.9"/>
<circle cx="604.2" cy="160.6" r="4.9"/>
<circle cx="603.4" cy="161.8" r="4.9"/>
<circle cx="600.7" cy="162.5" r="4.9"/>
<circle cx="600.7" cy="162.3" r="4.9"/>
<circle cx="598.0" cy="162.6" r="4.9"/>
<circle cx="603.8" cy="164.6" r="4.9"/>
<circle cx="602.9" cy="165.6" r="4.9"/>
<circle cx="603.4" cy="164.8" r="4.9"/>
<circle cx="602.8" cy="164.0" r="4.9"/>
<circle cx="598.5" cy="165.4" r="4.9"/>
<circle cx="601.4" cy="165.1" r="4.9"/>
<circle cx="600.9" cy="165.7" r="4.9"/>
<circle cx="600.4" cy="167.3" r="4.9"/>
<circle cx="601.2" cy="166.3" r="4.9"/>
<circle cx="599.0" cy="167.1" r="4.9"/>
<circle cx="600.1" cy="167.4" r="4.9"/>
<circle cx="602.5" cy="167.5" r="4.9"/>
<circle cx="600.3" cy="170.7" r="4.9"/>
<circle cx="604.9" cy="170.4" r="4.9"/>
<circle cx="601.1" cy="163.0" r="4.9"/>
<circle cx="600.9" cy="164.1" r="4.9"/>
<circle cx="602.4" cy="164.9" r="4.9"/>
<circle cx="602.3" cy="165.3" r="4.9"/>
<circle cx="599.8" cy="165.5" r="4.9"/>
<circle cx="598.6" cy="167.3" r="4.9"/>
<circle cx="599.8" cy="169.4" r="4.9"/>
<circle cx="604.7" cy="170.4" r="4.9"/>
<circle cx="661.3" cy="64.3" r="4.9"/>
<circle cx="664.1" cy="91.1" r="4.9"/>
<circle cx="664.1" cy="99.2" r="4.9"/>
<circle cx="661.3" cy="102.7" r="4.9"/>
<circle cx="662.7" cy="113.3" r="4.9"/>
<circle cx="662.7" cy="112.8" r="4.9"/>
<circle cx="666.2" cy="133.2" r="4.9"/>
<circle cx="666.9" cy="137.4" r="4.9"/>
<circle cx="664.1" cy="148.0" r="4.9"/>
<circle cx="662.7" cy="152.2" r="4.9"/>
<circle cx="666.9" cy="147.3" r="4.9"/>
<circle cx="662.7" cy="156.4" r="4.9"/>
<circle cx="661.3" cy="162.7" r="4.9"/>
<circle cx="665.5" cy="164.1" r="4.9"/>
<circle cx="666.2" cy="169.8" r="4.9"/>
<circle cx="668.3" cy="169.1" r="4.9"/>
<circle cx="663.0" cy="168.0" r="4.9"/>
<circle cx="661.0" cy="159.0" r="4.9"/>
</g>
<polyline points="461.1,164.3 524.8,162.4 588.9,159.4 652.9,140.9" fill="none" stroke="rgb(206,126,101)" stroke-width="3.8" stroke-linejoin="round"/>
<circle cx="461.1" cy="164.3" r="7.1" fill="rgb(206,126,101)" stroke="#000" stroke-width="2.2"/>
<circle cx="524.8" cy="162.4" r="7.1" fill="rgb(206,126,101)" stroke="#000" stroke-width="2.2"/>
<circle cx="588.9" cy="159.4" r="7.1" fill="rgb(206,126,101)" stroke="#000" stroke-width="2.2"/>
<circle cx="652.9" cy="140.9" r="7.1" fill="rgb(206,126,101)" stroke="#000" stroke-width="2.2"/>
</g>
<g shape-rendering="crispEdges">
<rect x="403" y="18" width="2" height="185" fill="rgb(182,182,182)"/>
<rect x="403" y="203" width="282" height="1" fill="rgb(100,100,100)"/>
<rect x="461" y="200" width="1" height="3" fill="rgb(140,140,140)"/>
<rect x="525" y="200" width="1" height="3" fill="rgb(140,140,140)"/>
<rect x="588" y="200" width="1" height="3" fill="rgb(140,140,140)"/>
<rect x="652" y="200" width="1" height="3" fill="rgb(140,140,140)"/>
<rect x="405" y="169" width="3" height="1" fill="rgb(140,140,140)"/>
<rect x="405" y="126" width="3" height="1" fill="rgb(140,140,140)"/>
<rect x="405" y="83" width="3" height="1" fill="rgb(140,140,140)"/>
<rect x="405" y="40" width="3" height="1" fill="rgb(140,140,140)"/>
</g>
<text class="t" x="461.4" y="222.3" text-anchor="middle">1</text>
<text class="t" x="525.4" y="222.3" text-anchor="middle">2</text>
<text class="t" x="588.8" y="222.3" text-anchor="middle">3</text>
<text class="t" x="652.5" y="222.3" text-anchor="middle">4</text>
<text class="t" x="398.4" y="175.8" text-anchor="end">0</text>
<text class="t" x="398.4" y="132.5" text-anchor="end">0.05</text>
<text class="t" x="398.4" y="89.3" text-anchor="end">0.1</text>
<text class="t" x="398.4" y="46.0" text-anchor="end">0.15</text>
<text class="t l" x="545.0" y="240.1" text-anchor="middle">fear level</text>
<text class="t l" transform="translate(365.3 112.3) rotate(-90)" text-anchor="middle">model-based response</text>
<text class="ti" x="545.1" y="11.8" text-anchor="middle">B) Skin conductance</text>
<clipPath id="cC"><rect x="35.5" y="255.3" width="280.5" height="205.1"/></clipPath>
<g clip-path="url(#cC)">
<path d="M68.6 286.3 L68.6 286.3 C68.4 288.2 67.9 293.6 67.5 298.0 C67.1 302.4 66.3 308.0 66.3 312.5 C66.2 317.0 67.2 320.7 67.2 325.2 C67.2 329.7 67.0 335.7 66.6 339.6 C66.2 343.5 65.6 345.7 64.8 348.7 C64.0 351.7 63.0 354.1 61.7 357.7 C60.4 361.2 59.5 366.3 57.2 370.0 C54.9 373.7 50.5 376.6 48.0 380.0 C45.5 383.4 43.6 386.7 42.0 390.1 C40.4 393.5 39.0 397.5 38.4 400.2 C37.8 402.9 37.3 403.5 38.2 406.2 C39.1 408.9 41.4 412.8 44.0 416.2 C46.6 419.6 51.0 423.3 54.0 426.3 C57.0 429.3 60.1 432.0 62.1 434.3 C64.1 436.6 65.0 437.6 66.1 440.3 C67.2 443.0 68.2 448.7 68.6 450.4 L68.6 450.4 Z" fill="rgb(206,126,101)" fill-opacity="0.5"/>
<path d="M143.5 324.1 L143.5 324.1 C143.1 326.8 141.9 335.9 141.2 340.2 C140.5 344.5 139.9 346.9 139.2 350.2 C138.4 353.5 137.6 356.8 136.7 360.2 C135.8 363.6 134.7 367.0 133.7 370.3 C132.7 373.6 132.6 377.1 130.5 380.0 C128.4 382.9 123.7 385.3 120.9 388.0 C118.1 390.7 115.7 393.4 113.7 396.1 C111.7 398.8 109.8 401.8 108.8 404.1 C107.8 406.4 107.7 407.8 108.0 409.7 C108.3 411.6 108.8 413.3 110.4 415.3 C112.0 417.3 114.9 419.7 117.7 421.8 C120.5 423.9 124.2 426.1 127.3 428.2 C130.4 430.3 133.8 432.5 136.1 434.6 C138.4 436.7 139.8 438.9 141.0 441.0 C142.2 443.1 142.6 446.2 143.0 447.5 C143.4 448.8 143.4 448.8 143.5 449.0 L143.5 449.0 Z" fill="rgb(206,126,101)" fill-opacity="0.5"/>
<path d="M218.0 300.2 L218.0 300.2 C217.6 304.2 216.0 317.3 215.5 324.1 C215.0 330.9 215.3 335.5 214.8 341.2 C214.3 346.9 213.5 354.0 212.5 358.3 C211.5 362.6 209.2 364.9 208.7 366.8 C208.1 368.8 208.7 368.1 209.2 370.0 C209.7 371.9 211.5 375.3 211.6 378.0 C211.7 380.7 211.3 383.4 210.0 386.1 C208.7 388.8 206.5 391.4 203.6 394.1 C200.7 396.8 196.1 400.0 192.3 402.1 C188.6 404.2 184.4 405.3 181.1 406.9 C177.8 408.5 174.0 410.3 172.2 411.8 C170.4 413.3 169.7 414.5 170.1 415.8 C170.5 417.1 171.7 418.3 174.6 419.8 C177.5 421.3 183.2 423.0 187.5 424.6 C191.8 426.2 196.4 427.8 200.3 429.4 C204.2 431.0 208.2 432.7 210.8 434.3 C213.4 435.9 214.4 437.8 215.6 439.1 C216.8 440.4 217.6 441.8 218.0 442.3 L218.0 442.3 Z" fill="rgb(206,126,101)" fill-opacity="0.5"/>
<path d="M292.9 296.1 L292.9 296.1 C292.4 298.4 291.0 305.1 290.2 310.1 C289.4 315.1 288.2 321.2 288.2 326.2 C288.2 331.2 290.0 335.2 290.2 340.2 C290.4 345.2 289.8 351.6 289.2 356.3 C288.6 361.0 287.6 364.6 286.6 368.4 C285.6 372.2 284.8 375.7 283.3 379.0 C281.9 382.3 280.0 385.1 277.9 388.1 C275.8 391.1 273.1 394.1 270.7 397.1 C268.3 400.1 265.4 403.4 263.4 406.1 C261.4 408.8 259.5 411.3 258.9 413.4 C258.3 415.5 258.6 417.0 259.8 418.8 C261.0 420.6 263.4 422.1 266.1 424.2 C268.8 426.3 273.1 429.0 276.1 431.4 C279.1 433.8 281.9 436.3 284.2 438.7 C286.4 441.1 288.2 443.8 289.6 445.9 C291.1 448.0 292.3 450.4 292.9 451.3 L292.9 451.3 Z" fill="rgb(206,126,101)" fill-opacity="0.5"/>
<g fill="rgb(206,126,101)" fill-opacity="0.5">
<circle cx="83.6" cy="306.6" r="4.9"/>
<circle cx="79.4" cy="316.7" r="4.9"/>
<circle cx="78.7" cy="340.6" r="4.9"/>
<circle cx="86.1" cy="359.9" r="4.9"/>
<circle cx="78.8" cy="369.4" r="4.9"/>
<circle cx="85.2" cy="375.3" r="4.9"/>
<circle cx="81.6" cy="380.7" r="4.9"/>
<circle cx="86.1" cy="379.8" r="4.9"/>
<circle cx="79.7" cy="384.3" r="4.9"/>
<circle cx="85.2" cy="389.7" r="4.9"/>
<circle cx="86.2" cy="385.3" r="4.9"/>
<circle cx="79.1" cy="388.1" r="4.9"/>
<circle cx="81.4" cy="388.1" r="4.9"/>
<circle cx="85.5" cy="389.5" r="4.9"/>
<circle cx="76.3" cy="388.7" r="4.9"/>
<circle cx="81.2" cy="391.8" r="4.9"/>
<circle cx="76.0" cy="392.4" r="4.9"/>
<circle cx="84.7" cy="392.3" r="4.9"/>
<circle cx="87.3" cy="392.5" r="4.9"/>
<circle cx="76.4" cy="395.4" r="4.9"/>
<circle cx="82.5" cy="393.6" r="4.9"/>
<circle cx="80.6" cy="397.2" r="4.9"/>
<circle cx="81.1" cy="395.9" r="4.9"/>
<circle cx="78.7" cy="396.2" r="4.9"/>
<circle cx="81.9" cy="398.3" r="4.9"/>
<circle cx="78.8" cy="398.6" r="4.9"/>
<circle cx="81.5" cy="399.4" r="4.9"/>
<circle cx="76.3" cy="400.5" r="4.9"/>
<circle cx="82.7" cy="403.0" r="4.9"/>
<circle cx="78.2" cy="403.3" r="4.9"/>
<circle cx="86.3" cy="405.2" r="4.9"/>
<circle cx="80.0" cy="403.4" r="4.9"/>
<circle cx="84.5" cy="406.1" r="4.9"/>
<circle cx="81.1" cy="407.6" r="4.9"/>
<circle cx="84.0" cy="408.1" r="4.9"/>
<circle cx="83.1" cy="407.4" r="4.9"/>
<circle cx="86.2" cy="410.0" r="4.9"/>
<circle cx="83.1" cy="409.8" r="4.9"/>
<circle cx="78.9" cy="409.2" r="4.9"/>
<circle cx="81.0" cy="412.4" r="4.9"/>
<circle cx="82.6" cy="411.4" r="4.9"/>
<circle cx="84.1" cy="413.8" r="4.9"/>
<circle cx="81.3" cy="413.7" r="4.9"/>
<circle cx="85.3" cy="415.0" r="4.9"/>
<circle cx="80.7" cy="415.9" r="4.9"/>
<circle cx="76.4" cy="416.6" r="4.9"/>
<circle cx="84.4" cy="416.2" r="4.9"/>
<circle cx="83.1" cy="419.8" r="4.9"/>
<circle cx="78.0" cy="418.9" r="4.9"/>
<circle cx="87.8" cy="420.1" r="4.9"/>
<circle cx="82.5" cy="421.8" r="4.9"/>
<circle cx="78.8" cy="422.9" r="4.9"/>
<circle cx="87.4" cy="422.7" r="4.9"/>
<circle cx="81.5" cy="423.8" r="4.9"/>
<circle cx="85.4" cy="367.6" r="4.9"/>
<circle cx="87.4" cy="370.5" r="4.9"/>
<circle cx="87.2" cy="372.7" r="4.9"/>
<circle cx="82.7" cy="373.0" r="4.9"/>
<circle cx="84.5" cy="378.1" r="4.9"/>
<circle cx="79.1" cy="380.4" r="4.9"/>
<circle cx="80.5" cy="381.5" r="4.9"/>
<circle cx="83.7" cy="384.1" r="4.9"/>
<circle cx="80.2" cy="384.9" r="4.9"/>
<circle cx="87.2" cy="388.1" r="4.9"/>
<circle cx="162.1" cy="346.8" r="4.9"/>
<circle cx="153.0" cy="354.1" r="4.9"/>
<circle cx="157.1" cy="354.1" r="4.9"/>
<circle cx="155.0" cy="361.1" r="4.9"/>
<circle cx="158.1" cy="362.6" r="4.9"/>
<circle cx="157.1" cy="370.1" r="4.9"/>
<circle cx="158.1" cy="375.2" r="4.9"/>
<circle cx="154.5" cy="379.2" r="4.9"/>
<circle cx="161.6" cy="380.2" r="4.9"/>
<circle cx="163.4" cy="389.8" r="4.9"/>
<circle cx="153.0" cy="387.8" r="4.9"/>
<circle cx="160.8" cy="391.0" r="4.9"/>
<circle cx="155.7" cy="391.2" r="4.9"/>
<circle cx="159.3" cy="391.8" r="4.9"/>
<circle cx="153.9" cy="392.5" r="4.9"/>
<circle cx="156.7" cy="392.9" r="4.9"/>
<circle cx="163.9" cy="394.5" r="4.9"/>
<circle cx="158.5" cy="396.0" r="4.9"/>
<circle cx="155.2" cy="395.3" r="4.9"/>
<circle cx="152.3" cy="394.8" r="4.9"/>
<circle cx="155.8" cy="396.9" r="4.9"/>
<circle cx="162.7" cy="397.4" r="4.9"/>
<circle cx="158.7" cy="398.6" r="4.9"/>
<circle cx="152.3" cy="398.6" r="4.9"/>
<circle cx="153.6" cy="399.6" r="4.9"/>
<circle cx="164.0" cy="400.9" r="4.9"/>
<circle cx="154.2" cy="402.2" r="4.9"/>
<circle cx="161.6" cy="403.7" r="4.9"/>
<circle cx="162.9" cy="404.0" r="4.9"/>
<circle cx="161.5" cy="404.8" r="4.9"/>
<circle cx="163.8" cy="404.4" r="4.9"/>
<circle cx="153.9" cy="407.0" r="4.9"/>
<circle cx="160.6" cy="407.2" r="4.9"/>
<circle cx="158.4" cy="407.1" r="4.9"/>
<circle cx="163.1" cy="407.9" r="4.9"/>
<circle cx="162.0" cy="408.7" r="4.9"/>
<circle cx="162.6" cy="409.1" r="4.9"/>
<circle cx="157.5" cy="411.5" r="4.9"/>
<circle cx="163.0" cy="411.3" r="4.9"/>
<circle cx="157.8" cy="412.5" r="4.9"/>
<circle cx="155.9" cy="411.8" r="4.9"/>
<circle cx="154.0" cy="414.0" r="4.9"/>
<circle cx="155.2" cy="415.4" r="4.9"/>
<circle cx="155.7" cy="416.2" r="4.9"/>
<circle cx="160.5" cy="417.2" r="4.9"/>
<circle cx="158.2" cy="416.6" r="4.9"/>
<circle cx="159.1" cy="417.8" r="4.9"/>
<circle cx="154.5" cy="417.6" r="4.9"/>
<circle cx="163.2" cy="418.9" r="4.9"/>
<circle cx="152.9" cy="420.1" r="4.9"/>
<circle cx="160.7" cy="421.4" r="4.9"/>
<circle cx="154.3" cy="422.5" r="4.9"/>
<circle cx="152.7" cy="422.8" r="4.9"/>
<circle cx="155.3" cy="423.3" r="4.9"/>
<circle cx="162.5" cy="422.8" r="4.9"/>
<circle cx="161.1" cy="366.0" r="4.9"/>
<circle cx="155.2" cy="367.2" r="4.9"/>
<circle cx="159.5" cy="367.9" r="4.9"/>
<circle cx="160.5" cy="371.5" r="4.9"/>
<circle cx="160.6" cy="373.4" r="4.9"/>
<circle cx="160.9" cy="375.2" r="4.9"/>
<circle cx="156.8" cy="378.8" r="4.9"/>
<circle cx="159.7" cy="380.4" r="4.9"/>
<circle cx="158.3" cy="381.5" r="4.9"/>
<circle cx="155.3" cy="385.5" r="4.9"/>
<circle cx="159.7" cy="387.7" r="4.9"/>
<circle cx="156.0" cy="389.9" r="4.9"/>
<circle cx="233.0" cy="314.8" r="4.9"/>
<circle cx="232.8" cy="322.5" r="4.9"/>
<circle cx="233.9" cy="347.8" r="4.9"/>
<circle cx="227.6" cy="365.8" r="4.9"/>
<circle cx="236.3" cy="366.6" r="4.9"/>
<circle cx="230.0" cy="372.0" r="4.9"/>
<circle cx="230.0" cy="378.3" r="4.9"/>
<circle cx="235.6" cy="386.0" r="4.9"/>
<circle cx="235.6" cy="389.5" r="4.9"/>
<circle cx="232.1" cy="396.6" r="4.9"/>
<circle cx="233.0" cy="396.6" r="4.9"/>
<circle cx="233.6" cy="397.6" r="4.9"/>
<circle cx="227.7" cy="399.1" r="4.9"/>
<circle cx="236.2" cy="397.9" r="4.9"/>
<circle cx="229.6" cy="399.3" r="4.9"/>
<circle cx="232.2" cy="402.2" r="4.9"/>
<circle cx="232.2" cy="402.4" r="4.9"/>
<circle cx="228.7" cy="402.5" r="4.9"/>
<circle cx="236.5" cy="403.1" r="4.9"/>
<circle cx="235.2" cy="403.5" r="4.9"/>
<circle cx="227.7" cy="404.6" r="4.9"/>
<circle cx="233.5" cy="405.5" r="4.9"/>
<circle cx="227.3" cy="404.8" r="4.9"/>
<circle cx="232.2" cy="407.2" r="4.9"/>
<circle cx="236.7" cy="407.4" r="4.9"/>
<circle cx="237.1" cy="408.1" r="4.9"/>
<circle cx="235.8" cy="407.8" r="4.9"/>
<circle cx="237.3" cy="408.6" r="4.9"/>
<circle cx="228.1" cy="410.6" r="4.9"/>
<circle cx="229.4" cy="409.1" r="4.9"/>
<circle cx="231.8" cy="412.2" r="4.9"/>
<circle cx="230.3" cy="411.9" r="4.9"/>
<circle cx="231.2" cy="412.2" r="4.9"/>
<circle cx="233.4" cy="412.4" r="4.9"/>
<circle cx="236.9" cy="413.8" r="4.9"/>
<circle cx="237.2" cy="414.8" r="4.9"/>
<circle cx="237.9" cy="416.0" r="4.9"/>
<circle cx="228.8" cy="416.1" r="4.9"/>
<circle cx="237.6" cy="417.3" r="4.9"/>
<circle cx="233.3" cy="418.1" r="4.9"/>
<circle cx="229.3" cy="418.2" r="4.9"/>
<circle cx="233.3" cy="419.3" r="4.9"/>
<circle cx="227.7" cy="418.3" r="4.9"/>
<circle cx="237.9" cy="420.7" r="4.9"/>
<circle cx="235.8" cy="419.1" r="4.9"/>
<circle cx="228.7" cy="420.7" r="4.9"/>
<circle cx="235.5" cy="421.0" r="4.9"/>
<circle cx="227.5" cy="423.4" r="4.9"/>
<circle cx="227.5" cy="423.3" r="4.9"/>
<circle cx="230.6" cy="424.3" r="4.9"/>
<circle cx="307.5" cy="314.8" r="4.9"/>
<circle cx="307.5" cy="320.4" r="4.9"/>
<circle cx="308.9" cy="325.3" r="4.9"/>
<circle cx="308.9" cy="332.3" r="4.9"/>
<circle cx="309.6" cy="333.8" r="4.9"/>
<circle cx="306.1" cy="354.1" r="4.9"/>
<circle cx="306.1" cy="360.5" r="4.9"/>
<circle cx="306.1" cy="362.1" r="4.9"/>
<circle cx="307.5" cy="369.6" r="4.9"/>
<circle cx="304.0" cy="372.7" r="4.9"/>
<circle cx="308.2" cy="372.7" r="4.9"/>
<circle cx="302.6" cy="383.6" r="4.9"/>
<circle cx="303.2" cy="385.0" r="4.9"/>
<circle cx="305.9" cy="384.9" r="4.9"/>
<circle cx="310.3" cy="388.3" r="4.9"/>
<circle cx="303.9" cy="388.7" r="4.9"/>
<circle cx="304.5" cy="388.9" r="4.9"/>
<circle cx="302.7" cy="388.7" r="4.9"/>
<circle cx="311.7" cy="389.7" r="4.9"/>
<circle cx="310.4" cy="392.4" r="4.9"/>
<circle cx="303.6" cy="393.2" r="4.9"/>
<circle cx="308.4" cy="392.6" r="4.9"/>
<circle cx="310.9" cy="394.7" r="4.9"/>
<circle cx="302.5" cy="396.0" r="4.9"/>
<circle cx="308.9" cy="396.1" r="4.9"/>
<circle cx="303.5" cy="396.6" r="4.9"/>
<circle cx="302.5" cy="397.4" r="4.9"/>
<circle cx="311.0" cy="399.7" r="4.9"/>
<circle cx="304.8" cy="399.4" r="4.9"/>
<circle cx="307.8" cy="401.3" r="4.9"/>
<circle cx="310.8" cy="402.1" r="4.9"/>
<circle cx="306.1" cy="401.9" r="4.9"/>
<circle cx="306.2" cy="403.0" r="4.9"/>
<circle cx="304.9" cy="402.5" r="4.9"/>
<circle cx="302.0" cy="405.4" r="4.9"/>
<circle cx="308.4" cy="403.9" r="4.9"/>
<circle cx="307.4" cy="405.5" r="4.9"/>
<circle cx="305.3" cy="407.0" r="4.9"/>
<circle cx="303.7" cy="409.4" r="4.9"/>
<circle cx="303.7" cy="408.5" r="4.9"/>
<circle cx="304.5" cy="410.1" r="4.9"/>
<circle cx="309.7" cy="410.1" r="4.9"/>
<circle cx="307.6" cy="410.9" r="4.9"/>
<circle cx="302.6" cy="413.5" r="4.9"/>
<circle cx="304.0" cy="411.8" r="4.9"/>
<circle cx="308.3" cy="414.8" r="4.9"/>
<circle cx="305.1" cy="414.1" r="4.9"/>
<circle cx="306.5" cy="414.8" r="4.9"/>
<circle cx="309.2" cy="415.2" r="4.9"/>
<circle cx="312.0" cy="418.7" r="4.9"/>
<circle cx="312.1" cy="419.1" r="4.9"/>
<circle cx="304.7" cy="417.8" r="4.9"/>
<circle cx="310.0" cy="421.5" r="4.9"/>
<circle cx="311.9" cy="420.7" r="4.9"/>
<circle cx="310.5" cy="422.2" r="4.9"/>
<circle cx="303.6" cy="422.1" r="4.9"/>
<circle cx="303.0" cy="423.4" r="4.9"/>
</g>
<polyline points="68.5,394.0 143.7,398.6 218.3,402.6 292.9,398.7" fill="none" stroke="rgb(206,126,101)" stroke-width="3.8" stroke-linejoin="round"/>
<circle cx="68.5" cy="394.0" r="7.1" fill="rgb(206,126,101)" stroke="#000" stroke-width="2.2"/>
<circle cx="143.7" cy="398.6" r="7.1" fill="rgb(206,126,101)" stroke="#000" stroke-width="2.2"/>
<circle cx="218.3" cy="402.6" r="7.1" fill="rgb(206,126,101)" stroke="#000" stroke-width="2.2"/>
<circle cx="292.9" cy="398.7" r="7.1" fill="rgb(206,126,101)" stroke="#000" stroke-width="2.2"/>
</g>
<g shape-rendering="crispEdges">
<rect x="35" y="275" width="1" height="185" fill="rgb(125,125,125)"/>
<rect x="35" y="460" width="281" height="1" fill="rgb(105,105,105)"/>
<rect x="68" y="457" width="1" height="3" fill="rgb(140,140,140)"/>
<rect x="143" y="457" width="1" height="3" fill="rgb(140,140,140)"/>
<rect x="218" y="457" width="1" height="3" fill="rgb(140,140,140)"/>
<rect x="293" y="457" width="1" height="3" fill="rgb(140,140,140)"/>
<rect x="36" y="460" width="3" height="1" fill="rgb(140,140,140)"/>
<rect x="36" y="423" width="3" height="1" fill="rgb(140,140,140)"/>
<rect x="36" y="386" width="3" height="1" fill="rgb(140,140,140)"/>
<rect x="36" y="349" width="3" height="1" fill="rgb(140,140,140)"/>
<rect x="36" y="312" width="3" height="1" fill="rgb(140,140,140)"/>
<rect x="36" y="275" width="3" height="1" fill="rgb(140,140,140)"/>
</g>
<text class="t" x="68.8" y="479.4" text-anchor="middle">1</text>
<text class="t" x="143.5" y="479.4" text-anchor="middle">2</text>
<text class="t" x="218.3" y="479.4" text-anchor="middle">3</text>
<text class="t" x="293.0" y="479.4" text-anchor="middle">4</text>
<text class="t" x="28.7" y="466.4" text-anchor="end">-1</text>
<text class="t" x="30.7" y="429.4" text-anchor="end">0</text>
<text class="t" x="30.7" y="392.4" text-anchor="end">1</text>
<text class="t" x="30.7" y="355.4" text-anchor="end">2</text>
<text class="t" x="30.7" y="318.3" text-anchor="end">3</text>
<text class="t" x="30.7" y="281.3" text-anchor="end">4</text>
<text class="t l" x="175.8" y="497.2" text-anchor="middle">fear level</text>
<text class="t l" transform="translate(11.4 368.8) rotate(-90)" text-anchor="middle">model-based response</text>
<text class="ti" x="174.5" y="269.0" text-anchor="middle">C) Heart period</text>
<clipPath id="cD"><rect x="404.2" y="255.4" width="285.8" height="204.9"/></clipPath>
<g clip-path="url(#cD)">
<path d="M457.0 328.3 L457.0 328.3 C456.8 329.6 455.8 333.8 455.6 336.0 C455.4 338.2 456.1 339.8 456.0 341.6 C455.9 343.5 455.7 344.9 455.3 347.1 C454.9 349.3 454.2 353.0 453.6 354.8 C453.0 356.6 453.0 357.2 451.4 358.1 C449.8 359.0 446.8 359.6 443.7 360.4 C440.6 361.1 436.3 361.8 432.6 362.6 C428.9 363.4 424.6 364.3 421.6 365.3 C418.6 366.3 414.4 367.6 414.4 368.6 C414.4 369.6 418.6 370.6 421.6 371.4 C424.6 372.2 429.3 372.9 432.6 373.6 C435.9 374.3 439.5 375.0 441.5 375.8 C443.5 376.6 443.3 377.7 444.5 378.7 C445.7 379.7 447.4 380.7 448.5 381.9 C449.6 383.1 450.2 384.4 450.9 385.9 C451.6 387.4 452.3 389.1 452.9 390.7 C453.5 392.3 454.0 393.8 454.5 395.5 C455.0 397.2 455.7 399.7 456.1 401.1 C456.5 402.5 456.8 401.7 456.9 404.0 C457.0 406.3 457.4 412.1 456.9 415.0 C456.4 417.9 453.9 419.5 453.9 421.7 C453.9 423.9 456.4 424.9 456.9 428.0 C457.4 431.1 457.1 436.8 456.9 440.0 C456.7 443.2 455.7 445.0 455.7 447.0 C455.7 449.0 456.7 450.0 456.9 452.0 C457.1 454.0 457.0 457.8 457.0 459.0 L457.0 459.0 Z" fill="rgb(206,126,101)" fill-opacity="0.5"/>
<path d="M521.9 327.7 L521.9 327.7 C521.7 329.2 521.2 333.2 520.8 336.5 C520.4 339.8 519.7 345.4 519.7 347.6 C519.7 349.9 520.9 348.8 520.6 350.0 C520.3 351.2 519.9 353.5 518.1 355.0 C516.4 356.5 513.1 357.6 510.1 359.0 C507.1 360.4 503.3 361.8 500.1 363.1 C496.9 364.5 493.2 366.0 491.0 367.1 C488.8 368.2 487.2 368.8 487.0 369.6 C486.8 370.4 488.3 371.1 490.0 372.0 C491.7 372.9 494.0 374.0 497.0 375.1 C500.0 376.2 504.9 377.4 508.1 378.6 C511.3 379.8 514.3 380.9 516.1 382.1 C517.9 383.4 518.8 384.8 519.1 386.1 C519.4 387.5 518.6 388.9 518.1 390.2 C517.6 391.5 516.5 393.1 516.1 394.2 C515.7 395.2 515.3 395.8 515.6 396.5 C515.9 397.2 517.3 396.9 518.1 398.2 C518.9 399.5 519.9 400.8 520.3 404.1 C520.7 407.4 520.4 414.2 520.7 418.1 C521.0 422.0 521.7 425.8 521.9 427.3 L521.9 427.3 Z" fill="rgb(206,126,101)" fill-opacity="0.5"/>
<path d="M587.1 298.8 L587.1 298.8 C587.1 301.0 587.1 308.1 586.9 312.1 C586.7 316.2 586.0 319.4 585.8 323.1 C585.5 326.8 585.6 330.8 585.4 334.2 C585.2 337.6 584.9 340.8 584.5 343.6 C584.1 346.4 584.2 348.8 583.3 350.8 C582.4 352.8 580.8 354.1 579.1 355.7 C577.4 357.3 575.1 359.1 573.1 360.5 C571.1 361.9 568.5 362.9 567.0 364.1 C565.5 365.3 564.4 366.6 564.0 367.7 C563.6 368.8 564.0 369.5 564.5 370.5 C565.0 371.5 565.6 372.6 567.0 373.7 C568.4 374.8 571.3 375.9 573.1 377.3 C574.9 378.7 576.7 380.4 577.9 382.2 C579.1 384.0 579.6 386.2 580.3 388.2 C581.0 390.2 581.5 392.2 582.1 394.2 C582.7 396.2 583.4 398.4 583.9 400.0 C584.4 401.6 584.9 402.1 585.3 404.1 C585.7 406.1 586.0 407.8 586.2 412.1 C586.5 416.4 586.6 424.1 586.8 430.0 C586.9 435.9 587.0 444.6 587.1 447.5 L587.1 447.5 Z" fill="rgb(206,126,101)" fill-opacity="0.5"/>
<path d="M652.4 282.0 L652.4 282.0 C652.3 283.5 652.1 287.2 651.8 291.1 C651.5 295.0 650.6 301.1 650.6 305.1 C650.6 309.1 651.9 311.5 651.8 315.2 C651.7 318.9 650.5 323.9 650.2 327.2 C649.9 330.5 649.8 333.1 649.8 335.2 C649.8 337.3 650.2 338.2 649.9 340.0 C649.6 341.8 648.9 344.2 648.1 346.0 C647.3 347.8 646.6 349.2 645.1 350.8 C643.6 352.4 641.1 354.3 639.1 355.7 C637.1 357.1 635.1 358.1 633.1 359.3 C631.1 360.5 628.4 361.9 627.0 362.9 C625.6 363.9 625.2 364.7 625.0 365.5 C624.8 366.3 624.4 366.7 625.8 367.7 C627.1 368.7 630.5 370.1 633.1 371.3 C635.7 372.5 639.3 373.7 641.5 374.9 C643.7 376.1 645.1 377.2 646.3 378.6 C647.5 380.0 648.1 381.8 648.7 383.4 C649.3 385.0 649.5 386.4 649.9 388.2 C650.3 390.0 650.6 392.2 650.9 394.2 C651.2 396.2 651.3 397.8 651.5 400.0 C651.7 402.2 652.1 404.4 652.1 407.4 C652.1 410.4 652.1 415.1 651.8 418.0 C651.5 420.9 650.4 422.5 650.4 425.1 C650.4 427.8 651.6 431.7 651.9 433.9 C652.2 436.1 652.3 437.6 652.4 438.4 L652.4 438.4 Z" fill="rgb(206,126,101)" fill-opacity="0.5"/>
<g fill="rgb(206,126,101)" fill-opacity="0.5">
<circle cx="467.9" cy="335.5" r="4.9"/>
<circle cx="467.0" cy="347.5" r="4.9"/>
<circle cx="472.6" cy="350.3" r="4.9"/>
<circle cx="471.2" cy="355.2" r="4.9"/>
<circle cx="466.3" cy="385.5" r="4.9"/>
<circle cx="465.5" cy="391.1" r="4.9"/>
<circle cx="466.3" cy="391.3" r="4.9"/>
<circle cx="470.5" cy="396.9" r="4.9"/>
<circle cx="464.8" cy="420.8" r="4.9"/>
<circle cx="471.9" cy="420.8" r="4.9"/>
<circle cx="465.5" cy="446.1" r="4.9"/>
<circle cx="470.9" cy="358.3" r="4.9"/>
<circle cx="469.1" cy="360.4" r="4.9"/>
<circle cx="471.7" cy="359.9" r="4.9"/>
<circle cx="469.4" cy="362.3" r="4.9"/>
<circle cx="467.0" cy="362.1" r="4.9"/>
<circle cx="468.2" cy="361.3" r="4.9"/>
<circle cx="465.6" cy="363.7" r="4.9"/>
<circle cx="467.0" cy="365.0" r="4.9"/>
<circle cx="465.4" cy="364.0" r="4.9"/>
<circle cx="471.3" cy="367.0" r="4.9"/>
<circle cx="470.2" cy="367.3" r="4.9"/>
<circle cx="467.8" cy="365.5" r="4.9"/>
<circle cx="466.0" cy="367.6" r="4.9"/>
<circle cx="468.1" cy="369.6" r="4.9"/>
<circle cx="471.9" cy="367.9" r="4.9"/>
<circle cx="472.9" cy="368.5" r="4.9"/>
<circle cx="469.7" cy="370.2" r="4.9"/>
<circle cx="469.1" cy="370.6" r="4.9"/>
<circle cx="465.3" cy="370.8" r="4.9"/>
<circle cx="467.0" cy="373.5" r="4.9"/>
<circle cx="466.8" cy="373.9" r="4.9"/>
<circle cx="472.6" cy="375.2" r="4.9"/>
<circle cx="471.5" cy="375.2" r="4.9"/>
<circle cx="471.2" cy="375.4" r="4.9"/>
<circle cx="469.0" cy="374.7" r="4.9"/>
<circle cx="466.7" cy="377.5" r="4.9"/>
<circle cx="472.5" cy="378.5" r="4.9"/>
<circle cx="468.1" cy="377.6" r="4.9"/>
<circle cx="468.3" cy="378.4" r="4.9"/>
<circle cx="468.3" cy="380.8" r="4.9"/>
<circle cx="465.8" cy="378.5" r="4.9"/>
<circle cx="473.4" cy="381.3" r="4.9"/>
<circle cx="532.8" cy="333.3" r="4.9"/>
<circle cx="533.6" cy="338.6" r="4.9"/>
<circle cx="532.8" cy="349.1" r="4.9"/>
<circle cx="538.8" cy="381.5" r="4.9"/>
<circle cx="532.0" cy="391.3" r="4.9"/>
<circle cx="535.0" cy="395.0" r="4.9"/>
<circle cx="533.7" cy="394.2" r="4.9"/>
<circle cx="535.8" cy="397.0" r="4.9"/>
<circle cx="535.1" cy="405.5" r="4.9"/>
<circle cx="535.5" cy="419.3" r="4.9"/>
<circle cx="532.1" cy="357.7" r="4.9"/>
<circle cx="539.0" cy="355.6" r="4.9"/>
<circle cx="532.0" cy="356.8" r="4.9"/>
<circle cx="533.8" cy="359.0" r="4.9"/>
<circle cx="532.9" cy="360.4" r="4.9"/>
<circle cx="533.6" cy="361.3" r="4.9"/>
<circle cx="538.5" cy="361.0" r="4.9"/>
<circle cx="538.4" cy="361.9" r="4.9"/>
<circle cx="531.4" cy="362.7" r="4.9"/>
<circle cx="535.7" cy="364.0" r="4.9"/>
<circle cx="532.5" cy="363.0" r="4.9"/>
<circle cx="535.7" cy="365.3" r="4.9"/>
<circle cx="537.2" cy="366.3" r="4.9"/>
<circle cx="535.5" cy="367.1" r="4.9"/>
<circle cx="535.9" cy="367.0" r="4.9"/>
<circle cx="538.7" cy="366.4" r="4.9"/>
<circle cx="537.2" cy="367.3" r="4.9"/>
<circle cx="536.2" cy="369.9" r="4.9"/>
<circle cx="537.6" cy="368.2" r="4.9"/>
<circle cx="532.5" cy="370.5" r="4.9"/>
<circle cx="535.3" cy="369.4" r="4.9"/>
<circle cx="538.4" cy="370.0" r="4.9"/>
<circle cx="535.1" cy="372.2" r="4.9"/>
<circle cx="536.3" cy="372.6" r="4.9"/>
<circle cx="533.5" cy="374.9" r="4.9"/>
<circle cx="535.7" cy="373.9" r="4.9"/>
<circle cx="535.8" cy="374.4" r="4.9"/>
<circle cx="534.5" cy="375.9" r="4.9"/>
<circle cx="535.2" cy="377.0" r="4.9"/>
<circle cx="539.0" cy="376.0" r="4.9"/>
<circle cx="534.5" cy="377.5" r="4.9"/>
<circle cx="538.4" cy="378.3" r="4.9"/>
<circle cx="596.8" cy="312.4" r="4.9"/>
<circle cx="596.5" cy="319.1" r="4.9"/>
<circle cx="599.9" cy="335.3" r="4.9"/>
<circle cx="595.5" cy="341.0" r="4.9"/>
<circle cx="603.1" cy="341.0" r="4.9"/>
<circle cx="598.4" cy="349.6" r="4.9"/>
<circle cx="601.0" cy="392.9" r="4.9"/>
<circle cx="595.7" cy="400.1" r="4.9"/>
<circle cx="598.6" cy="407.6" r="4.9"/>
<circle cx="598.6" cy="427.9" r="4.9"/>
<circle cx="598.6" cy="436.2" r="4.9"/>
<circle cx="598.6" cy="381.6" r="4.9"/>
<circle cx="599.4" cy="388.0" r="4.9"/>
<circle cx="603.1" cy="355.7" r="4.9"/>
<circle cx="596.6" cy="356.5" r="4.9"/>
<circle cx="599.2" cy="356.5" r="4.9"/>
<circle cx="597.0" cy="357.2" r="4.9"/>
<circle cx="599.3" cy="357.1" r="4.9"/>
<circle cx="599.4" cy="358.1" r="4.9"/>
<circle cx="596.6" cy="358.4" r="4.9"/>
<circle cx="599.2" cy="361.3" r="4.9"/>
<circle cx="601.5" cy="361.6" r="4.9"/>
<circle cx="596.4" cy="362.0" r="4.9"/>
<circle cx="600.4" cy="364.2" r="4.9"/>
<circle cx="600.7" cy="364.7" r="4.9"/>
<circle cx="598.7" cy="366.5" r="4.9"/>
<circle cx="598.8" cy="366.8" r="4.9"/>
<circle cx="601.0" cy="367.1" r="4.9"/>
<circle cx="596.6" cy="367.2" r="4.9"/>
<circle cx="601.4" cy="368.6" r="4.9"/>
<circle cx="599.4" cy="369.8" r="4.9"/>
<circle cx="597.4" cy="370.9" r="4.9"/>
<circle cx="598.4" cy="370.4" r="4.9"/>
<circle cx="597.5" cy="373.2" r="4.9"/>
<circle cx="596.7" cy="372.0" r="4.9"/>
<circle cx="598.1" cy="372.6" r="4.9"/>
<circle cx="602.2" cy="375.1" r="4.9"/>
<circle cx="598.8" cy="375.3" r="4.9"/>
<circle cx="598.3" cy="376.0" r="4.9"/>
<circle cx="600.1" cy="378.4" r="4.9"/>
<circle cx="596.8" cy="377.7" r="4.9"/>
<circle cx="601.3" cy="380.2" r="4.9"/>
<circle cx="597.8" cy="381.2" r="4.9"/>
<circle cx="602.9" cy="381.2" r="4.9"/>
<circle cx="603.1" cy="382.3" r="4.9"/>
<circle cx="603.3" cy="381.9" r="4.9"/>
<circle cx="599.1" cy="382.4" r="4.9"/>
<circle cx="602.1" cy="383.2" r="4.9"/>
<circle cx="603.3" cy="386.1" r="4.9"/>
<circle cx="664.1" cy="289.3" r="4.9"/>
<circle cx="664.1" cy="294.5" r="4.9"/>
<circle cx="660.9" cy="308.9" r="4.9"/>
<circle cx="668.5" cy="319.4" r="4.9"/>
<circle cx="666.9" cy="322.6" r="4.9"/>
<circle cx="662.0" cy="339.4" r="4.9"/>
<circle cx="663.7" cy="386.4" r="4.9"/>
<circle cx="667.7" cy="391.9" r="4.9"/>
<circle cx="667.2" cy="423.9" r="4.9"/>
<circle cx="665.0" cy="428.4" r="4.9"/>
<circle cx="667.9" cy="343.1" r="4.9"/>
<circle cx="669.0" cy="342.5" r="4.9"/>
<circle cx="666.7" cy="343.5" r="4.9"/>
<circle cx="667.3" cy="344.1" r="4.9"/>
<circle cx="666.9" cy="345.2" r="4.9"/>
<circle cx="667.4" cy="347.9" r="4.9"/>
<circle cx="668.1" cy="348.0" r="4.9"/>
<circle cx="662.8" cy="350.6" r="4.9"/>
<circle cx="668.7" cy="350.1" r="4.9"/>
<circle cx="665.1" cy="351.7" r="4.9"/>
<circle cx="668.7" cy="351.4" r="4.9"/>
<circle cx="667.3" cy="351.7" r="4.9"/>
<circle cx="663.1" cy="354.9" r="4.9"/>
<circle cx="664.1" cy="354.3" r="4.9"/>
<circle cx="664.6" cy="355.9" r="4.9"/>
<circle cx="668.5" cy="357.9" r="4.9"/>
<circle cx="668.3" cy="357.1" r="4.9"/>
<circle cx="662.7" cy="357.3" r="4.9"/>
<circle cx="667.6" cy="360.0" r="4.9"/>
<circle cx="668.9" cy="361.4" r="4.9"/>
<circle cx="663.9" cy="362.5" r="4.9"/>
<circle cx="668.5" cy="363.1" r="4.9"/>
<circle cx="665.5" cy="362.1" r="4.9"/>
<circle cx="663.0" cy="363.2" r="4.9"/>
<circle cx="666.7" cy="365.1" r="4.9"/>
<circle cx="662.9" cy="367.6" r="4.9"/>
<circle cx="669.0" cy="367.1" r="4.9"/>
<circle cx="665.7" cy="368.8" r="4.9"/>
<circle cx="666.4" cy="368.2" r="4.9"/>
<circle cx="666.5" cy="369.2" r="4.9"/>
<circle cx="664.7" cy="371.3" r="4.9"/>
<circle cx="664.8" cy="372.7" r="4.9"/>
<circle cx="667.8" cy="372.7" r="4.9"/>
<circle cx="663.3" cy="373.0" r="4.9"/>
<circle cx="665.0" cy="374.9" r="4.9"/>
<circle cx="663.7" cy="376.8" r="4.9"/>
<circle cx="662.4" cy="376.2" r="4.9"/>
<circle cx="664.2" cy="377.4" r="4.9"/>
</g>
<polyline points="457.1,372.8 522.0,370.8 587.3,369.8 652.4,360.3" fill="none" stroke="rgb(206,126,101)" stroke-width="3.8" stroke-linejoin="round"/>
<circle cx="457.1" cy="372.8" r="7.1" fill="rgb(206,126,101)" stroke="#000" stroke-width="2.2"/>
<circle cx="522.0" cy="370.8" r="7.1" fill="rgb(206,126,101)" stroke="#000" stroke-width="2.2"/>
<circle cx="587.3" cy="369.8" r="7.1" fill="rgb(206,126,101)" stroke="#000" stroke-width="2.2"/>
<circle cx="652.4" cy="360.3" r="7.1" fill="rgb(206,126,101)" stroke="#000" stroke-width="2.2"/>
</g>
<g shape-rendering="crispEdges">
<rect x="403" y="275" width="2" height="185" fill="rgb(182,182,182)"/>
<rect x="403" y="460" width="282" height="1" fill="rgb(105,105,105)"/>
<rect x="457" y="457" width="1" height="3" fill="rgb(140,140,140)"/>
<rect x="522" y="457" width="1" height="3" fill="rgb(140,140,140)"/>
<rect x="587" y="457" width="1" height="3" fill="rgb(140,140,140)"/>
<rect x="652" y="457" width="1" height="3" fill="rgb(140,140,140)"/>
<rect x="405" y="450" width="3" height="1" fill="rgb(140,140,140)"/>
<rect x="405" y="422" width="3" height="1" fill="rgb(140,140,140)"/>
<rect x="405" y="394" width="3" height="1" fill="rgb(140,140,140)"/>
<rect x="405" y="365" width="3" height="1" fill="rgb(140,140,140)"/>
<rect x="405" y="337" width="3" height="1" fill="rgb(140,140,140)"/>
<rect x="405" y="309" width="3" height="1" fill="rgb(140,140,140)"/>
<rect x="405" y="281" width="3" height="1" fill="rgb(140,140,140)"/>
</g>
<text class="t" x="457.4" y="479.4" text-anchor="middle">1</text>
<text class="t" x="522.4" y="479.4" text-anchor="middle">2</text>
<text class="t" x="587.3" y="479.4" text-anchor="middle">3</text>
<text class="t" x="652.7" y="479.4" text-anchor="middle">4</text>
<text class="t" x="397.4" y="456.4" text-anchor="end">-15</text>
<text class="t" x="397.4" y="428.2" text-anchor="end">-10</text>
<text class="t" x="397.4" y="400.0" text-anchor="end">-5</text>
<text class="t" x="398.4" y="371.8" text-anchor="end">0</text>
<text class="t" x="398.4" y="343.6" text-anchor="end">5</text>
<text class="t" x="398.4" y="315.4" text-anchor="end">10</text>
<text class="t" x="398.4" y="287.2" text-anchor="end">15</text>
<text class="t l" x="544.9" y="497.2" text-anchor="middle">fear level</text>
<text class="t l" transform="translate(371.5 368.8) rotate(-90)" text-anchor="middle">model-based response</text>
<text class="ti" x="544.0" y="269.0" text-anchor="middle">D) Respiration amplitude</text>
<text class="t" x="36.4" y="16.3" style="font-size:17px;fill:#4a4a4a">&#215;</text>
<text class="t" x="47.2" y="15">10</text>
<text class="t" x="62.6" y="8.9" style="font-size:11.8px">-3</text>
</svg></body></html>
